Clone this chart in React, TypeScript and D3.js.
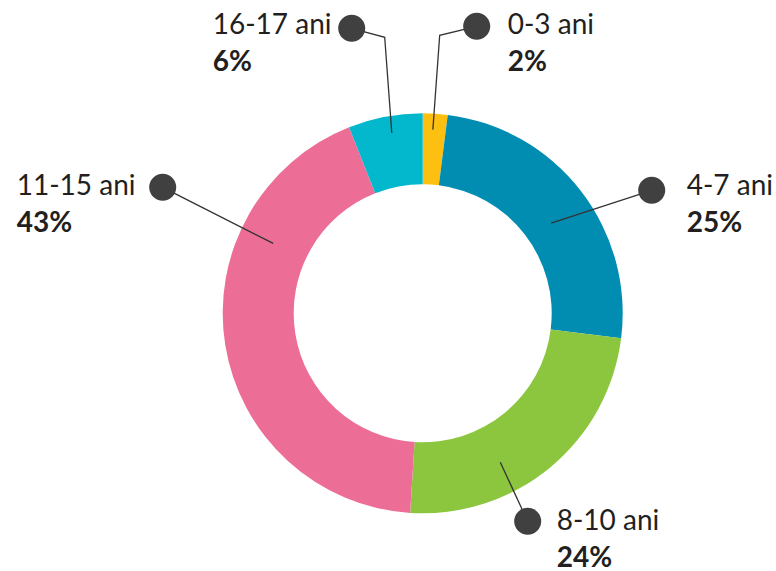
import React, { useMemo } from 'react';
import * as d3 from 'd3';

// Age groups and their share (%)
const categories = ['0-3 ani', '4-7 ani', '8-10 ani', '11-15 ani', '16-17 ani'];
const values = [2, 25, 24, 43, 6];
const colors = ['#FDC010', '#008DB1', '#8CC63F', '#EC6E97', '#03B8CD'];

// Label layout: where the leader line meets the slice (fraction along the slice, radius),
// dot offset from chart centre, optional elbow, and text position.
const labelLayout = [
  { f: 0.44, r: 184, dot: [54, -287], elbow: [17, -278], text: [85, -279] },
  { f: 0.53, r: 157, dot: [229, -123], elbow: null, text: [264, -118] },
  { f: 0.64, r: 168, dot: [105, 208], elbow: null, text: [134, 217] },
  { f: 0.72, r: 165, dot: [-260, -126], elbow: null, text: [-406, -118] },
  { f: 0.55, r: 183, dot: [-71, -285], elbow: [-38, -276], text: [-210, -279] },
];

const WIDTH = 776;
const HEIGHT = 571;
const cx = 422.7;
const cy = 313.3;
const outerR = 200;
const innerR = 129;
const FONT = 'Lato, "Open Sans", sans-serif';

const App: React.FC = () => {
  const arcs = useMemo(() => {
    const pie = d3.pie<number>().sort(null).value(d => d).startAngle(0).endAngle(2 * Math.PI);
    return pie(values);
  }, []);

  const arcGen = d3.arc<d3.PieArcDatum<number>>().innerRadius(innerR).outerRadius(outerR);

  return (
    <svg
      width={WIDTH}
      height={HEIGHT}
      style={{ position: 'absolute', left: 0, top: 0, display: 'block', background: '#fff' }}
    >
      <g transform={`translate(${cx},${cy})`}>
        {arcs.map((a, i) => (
          <path key={categories[i]} d={arcGen(a) || ''} fill={colors[i]} />
        ))}

        {/* Leader lines, dots and labels */}
        {arcs.map((a, i) => {
          const l = labelLayout[i];
          const theta = a.startAngle + l.f * (a.endAngle - a.startAngle);
          const ax = l.r * Math.sin(theta);
          const ay = -l.r * Math.cos(theta);
          const pts: number[][] = [[ax, ay]];
          if (l.elbow) pts.push(l.elbow);
          pts.push(l.dot);
          const line = d3.line()(pts as [number, number][]) || '';
          return (
            <g key={`lab-${i}`}>
              <path d={line} fill="none" stroke="#333" strokeWidth={1.3} />
              <circle cx={l.dot[0]} cy={l.dot[1]} r={13.5} fill="#404040" />
              <text x={l.text[0]} y={l.text[1]} fontFamily={FONT} fontSize={28} fill="#231F20">
                {categories[i]}
              </text>
              <text
                x={l.text[0]}
                y={l.text[1] + 36.5}
                fontFamily={FONT}
                fontSize={28}
                fontWeight="bold"
                fill="#231F20"
              >
                {values[i]}%
              </text>
            </g>
          );
        })}
      </g>
    </svg>
  );
};

export default App;
